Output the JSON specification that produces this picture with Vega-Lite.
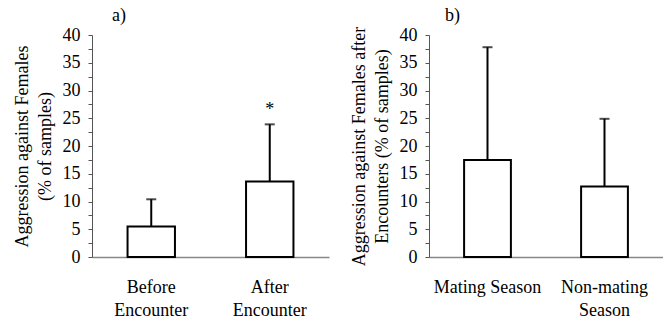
{
  "$schema": "https://vega.github.io/schema/vega-lite/v6.json",
  "padding": {"left": 13, "top": 7, "right": 0, "bottom": 0},
  "spacing": 20,
  "config": {
    "view": {"stroke": null},
    "font": "Liberation Serif",
    "axis": {"grid": false, "labelColor": "black", "titleColor": "black", "labelFontSize": 18, "titleFontSize": 18, "titleFontWeight": "normal", "labelFont": "Liberation Serif", "titleFont": "Liberation Serif"},
    "axisY": {
      "titleLineHeight": 23, "labelOverlap": false, "tickSize": 4, "labelPadding": 8, "titlePadding": 8,
      "domainColor": "#555555", "tickColor": "#555555"
    },
    "title": {"font": "Liberation Serif", "fontSize": 18, "fontWeight": "normal", "color": "black", "anchor": "start", "frame": "group"}
  },
  "datasets": {
    "a": [
      {"condition": "Before Encounter", "mean": 5.5, "upper": 10.4, "sig": ""},
      {"condition": "After Encounter", "mean": 13.6, "upper": 23.9, "sig": "*"}
    ],
    "b": [
      {"season": "Mating Season", "mean": 17.5, "upper": 37.8},
      {"season": "Non-mating Season", "mean": 12.7, "upper": 24.9}
    ]
  },
  "hconcat": [
    {
      "width": 237,
      "height": 222,
      "title": {"text": "a)", "dx": 20, "offset": 1, "frame": "group"},
      "data": {"name": "a"},
      "encoding": {
        "x": {
          "field": "condition", "type": "nominal", "sort": null,
          "scale": {"paddingInner": 0.6, "paddingOuter": 0.3},
          "axis": {"title": null, "ticks": false, "labelAngle": 0, "labelPadding": 21, "labelLineHeight": 23, "labelFont": "Liberation Serif", "labelFontSize": 18, "domainColor": "#888888", "domainWidth": 1.5, "labelExpr": "split(datum.label, ' ')"}
        }
      },
      "layer": [
        {
          "mark": {"type": "rule", "strokeWidth": 2, "color": "black"},
          "encoding": {
            "y": {
              "field": "upper", "type": "quantitative",
              "scale": {"domain": [0, 40], "nice": false},
              "axis": {
                "title": ["Aggression against Females", "(% of samples)"],
                "titleFont": "Liberation Serif", "titleFontSize": 18, "titleFontWeight": "normal", "titleColor": "black", "titleLineHeight": 23,
                "labelFont": "Liberation Serif", "labelFontSize": 18, "labelOverlap": false,
                "values": [0, 2.5, 5, 7.5, 10, 12.5, 15, 17.5, 20, 22.5, 25, 27.5, 30, 32.5, 35, 37.5, 40],
                "labelExpr": "datum.value % 5 === 0 ? datum.label : ''",
                "tickSize": 4, "labelPadding": 8, "titlePadding": 8,
                "domainColor": "#555555", "tickColor": "#555555"
              }
            },
            "y2": {"field": "mean"}
          }
        },
        {
          "mark": {"type": "bar", "fill": "white", "stroke": "black", "strokeWidth": 2},
          "encoding": {
            "y": {
              "field": "mean", "type": "quantitative",
              "axis": {
                "title": ["Aggression against Females", "(% of samples)"],
                "titleFont": "Liberation Serif", "titleFontSize": 18, "titleFontWeight": "normal", "titleColor": "black", "titleLineHeight": 23,
                "labelFont": "Liberation Serif", "labelFontSize": 18, "labelOverlap": false,
                "values": [0, 2.5, 5, 7.5, 10, 12.5, 15, 17.5, 20, 22.5, 25, 27.5, 30, 32.5, 35, 37.5, 40],
                "labelExpr": "datum.value % 5 === 0 ? datum.label : ''",
                "tickSize": 4, "labelPadding": 8, "titlePadding": 8,
                "domainColor": "#555555", "tickColor": "#555555"
              }
            }
          }
        },
        {
          "mark": {"type": "tick", "size": 10, "thickness": 2, "color": "black"},
          "encoding": {
            "y": {
              "field": "upper", "type": "quantitative",
              "axis": {
                "title": ["Aggression against Females", "(% of samples)"],
                "titleFont": "Liberation Serif", "titleFontSize": 18, "titleFontWeight": "normal", "titleColor": "black", "titleLineHeight": 23,
                "labelFont": "Liberation Serif", "labelFontSize": 18, "labelOverlap": false,
                "values": [0, 2.5, 5, 7.5, 10, 12.5, 15, 17.5, 20, 22.5, 25, 27.5, 30, 32.5, 35, 37.5, 40],
                "labelExpr": "datum.value % 5 === 0 ? datum.label : ''",
                "tickSize": 4, "labelPadding": 8, "titlePadding": 8,
                "domainColor": "#555555", "tickColor": "#555555"
              }
            }
          }
        },
        {
          "mark": {"type": "text", "font": "Liberation Serif", "fontSize": 18, "baseline": "alphabetic", "dy": -9, "color": "black"},
          "encoding": {
            "y": {
              "field": "upper", "type": "quantitative",
              "axis": {
                "title": ["Aggression against Females", "(% of samples)"],
                "titleFont": "Liberation Serif", "titleFontSize": 18, "titleFontWeight": "normal", "titleColor": "black", "titleLineHeight": 23,
                "labelFont": "Liberation Serif", "labelFontSize": 18, "labelOverlap": false,
                "values": [0, 2.5, 5, 7.5, 10, 12.5, 15, 17.5, 20, 22.5, 25, 27.5, 30, 32.5, 35, 37.5, 40],
                "labelExpr": "datum.value % 5 === 0 ? datum.label : ''",
                "tickSize": 4, "labelPadding": 8, "titlePadding": 8,
                "domainColor": "#555555", "tickColor": "#555555"
              }
            },
            "text": {"field": "sig"}
          }
        }
      ]
    },
    {
      "width": 234,
      "height": 222,
      "title": {"text": "b)", "dx": 16, "offset": 1, "frame": "group"},
      "data": {"name": "b"},
      "encoding": {
        "x": {
          "field": "season", "type": "nominal", "sort": null,
          "scale": {"paddingInner": 0.6, "paddingOuter": 0.3},
          "axis": {"title": null, "ticks": false, "labelAngle": 0, "labelPadding": 21, "labelLineHeight": 23, "labelFont": "Liberation Serif", "labelFontSize": 18, "domainColor": "#888888", "domainWidth": 1.5, "labelExpr": "datum.label == 'Non-mating Season' ? ['Non-mating', 'Season'] : datum.label"}
        }
      },
      "layer": [
        {
          "mark": {"type": "rule", "strokeWidth": 2, "color": "black"},
          "encoding": {
            "y": {
              "field": "upper", "type": "quantitative",
              "scale": {"domain": [0, 40], "nice": false},
              "axis": {
                "title": ["Aggression against Females after", "Encounters (% of samples)"],
                "titleFont": "Liberation Serif", "titleFontSize": 18, "titleFontWeight": "normal", "titleColor": "black", "titleLineHeight": 23,
                "labelFont": "Liberation Serif", "labelFontSize": 18, "labelOverlap": false,
                "values": [0, 2.5, 5, 7.5, 10, 12.5, 15, 17.5, 20, 22.5, 25, 27.5, 30, 32.5, 35, 37.5, 40],
                "labelExpr": "datum.value % 5 === 0 ? datum.label : ''",
                "tickSize": 4, "labelPadding": 8, "titlePadding": 8,
                "domainColor": "#555555", "tickColor": "#555555"
              }
            },
            "y2": {"field": "mean"}
          }
        },
        {
          "mark": {"type": "bar", "fill": "white", "stroke": "black", "strokeWidth": 2},
          "encoding": {
            "y": {
              "field": "mean", "type": "quantitative",
              "axis": {
                "title": ["Aggression against Females after", "Encounters (% of samples)"],
                "titleFont": "Liberation Serif", "titleFontSize": 18, "titleFontWeight": "normal", "titleColor": "black", "titleLineHeight": 23,
                "labelFont": "Liberation Serif", "labelFontSize": 18, "labelOverlap": false,
                "values": [0, 2.5, 5, 7.5, 10, 12.5, 15, 17.5, 20, 22.5, 25, 27.5, 30, 32.5, 35, 37.5, 40],
                "labelExpr": "datum.value % 5 === 0 ? datum.label : ''",
                "tickSize": 4, "labelPadding": 8, "titlePadding": 8,
                "domainColor": "#555555", "tickColor": "#555555"
              }
            }
          }
        },
        {
          "mark": {"type": "tick", "size": 10, "thickness": 2, "color": "black"},
          "encoding": {
            "y": {
              "field": "upper", "type": "quantitative",
              "axis": {
                "title": ["Aggression against Females after", "Encounters (% of samples)"],
                "titleFont": "Liberation Serif", "titleFontSize": 18, "titleFontWeight": "normal", "titleColor": "black", "titleLineHeight": 23,
                "labelFont": "Liberation Serif", "labelFontSize": 18, "labelOverlap": false,
                "values": [0, 2.5, 5, 7.5, 10, 12.5, 15, 17.5, 20, 22.5, 25, 27.5, 30, 32.5, 35, 37.5, 40],
                "labelExpr": "datum.value % 5 === 0 ? datum.label : ''",
                "tickSize": 4, "labelPadding": 8, "titlePadding": 8,
                "domainColor": "#555555", "tickColor": "#555555"
              }
            }
          }
        }
      ]
    }
  ]
}
